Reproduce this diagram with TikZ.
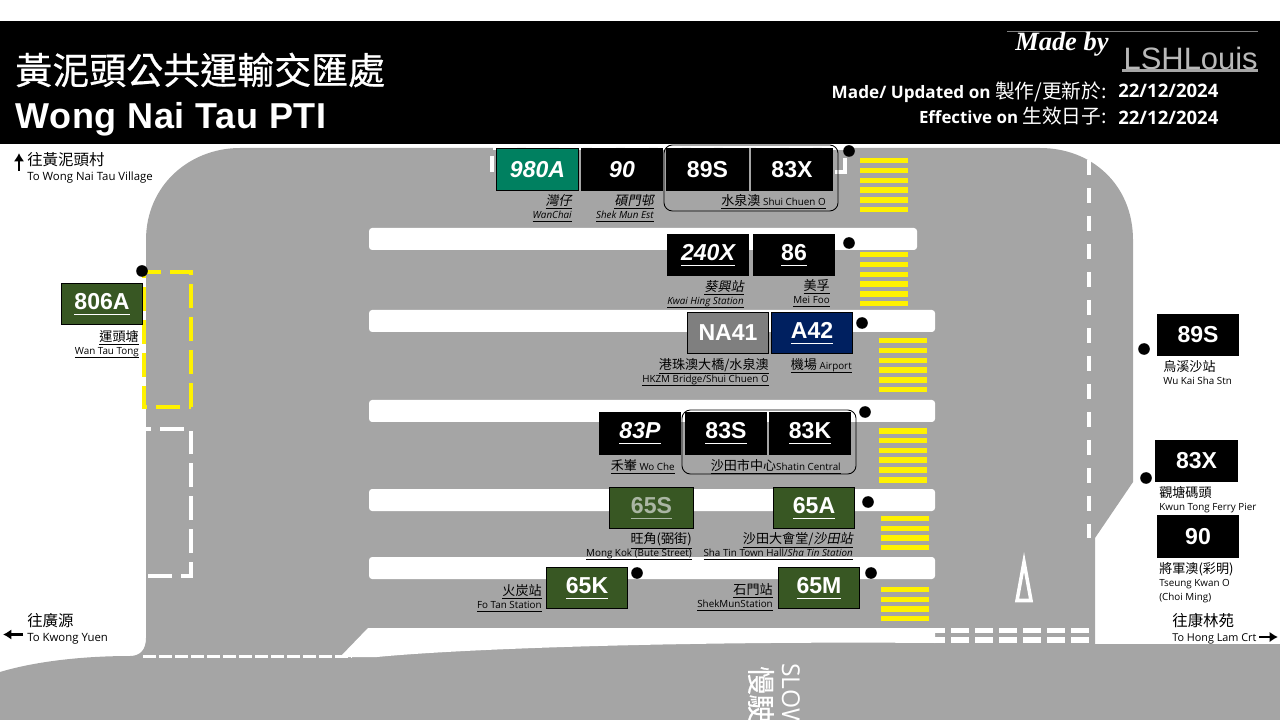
\documentclass[tikz,border=0pt]{standalone}
\usepackage{fontspec}
\usepackage{tikz}
\usetikzlibrary{arrows.meta}
\setmainfont{Open Sans}
\newfontfamily\cjk[AutoFakeSlant=0.2]{Noto Sans CJK TC}
\newfontfamily\cjkhead[FakeBold=0.6]{Noto Sans CJK TC}
\newfontfamily\rtfont{Liberation Sans}
\newfontfamily\titlefont[LetterSpace=2]{Liberation Sans}
\newfontfamily\logofont{Liberation Serif}
\definecolor{roadgray}{RGB}{165,165,165}
\definecolor{kmbgreen}{RGB}{56,87,35}
\definecolor{teal980}{RGB}{0,128,96}
\definecolor{navyA}{RGB}{0,32,96}
\definecolor{fadegray}{RGB}{127,127,127}
\newcommand{\zh}[1]{{\cjk\fontsize{9.3}{9.5}\selectfont #1}}
\newcommand{\en}[1]{{\fontsize{7}{9.5}\selectfont\raisebox{0pt}[\height][0.7pt]{#1}}}
\newcommand{\rtline}[1]{\underline{\rule[-2pt]{0pt}{0pt}#1}}
\newcommand{\labfont}{\fontsize{7}{9.5}\selectfont}

\begin{document}
\begin{tikzpicture}[
    x=0.025cm, y=-0.025cm,
    routebox/.style={
        rectangle, draw=black, fill=black, text=white, line width=0.7pt, inner sep=0pt,
        minimum width=2.03cm, minimum height=1.03cm, font=\fontsize{16.4}{18}\rtfont\bfseries
    },
    routeit/.style={routebox, font=\fontsize{16.4}{18}\rtfont\bfseries\itshape},
    greenbox/.style={routebox, fill=kmbgreen},
    stopdot/.style={circle, fill=black, minimum size=0.29cm, inner sep=0pt},
    stoplab/.style={anchor=north east, align=right, inner sep=0pt, font=\labfont},
    stoplabit/.style={stoplab, font=\labfont\itshape},
    sidelab/.style={anchor=north west, align=left, inner sep=0pt, font=\labfont},
    dirlab/.style={sidelab, font=\fontsize{8.1}{11}\selectfont},
    median/.style={fill=white, rounded corners=2.2pt},
    yellowbay/.style={draw=yellow, line width=2.6pt, dash pattern=on 17pt off 6.4pt},
    whitebay/.style={draw=white, line width=2.5pt, dash pattern=on 17pt off 6.4pt},
    grouploop/.style={rectangle, draw=black, rounded corners=6pt, line width=0.6pt},
    dirarrow/.style={draw, -{Latex[length=6pt,width=7.5pt]}, line width=1.5pt, black},
    headtext/.style={text=white, inner sep=0pt}
]
\useasboundingbox (0,0) rectangle (1280,720);

\fill [roadgray] (0,720) -- (0,672) .. controls (40,660) and (90,656) .. (130,656)
    .. controls (140,656) and (146,650) .. (146,638) -- (146,240)
    .. controls (146,185) and (190,148) .. (240,148) -- (1040,148)
    .. controls (1092,148) and (1133,185) .. (1133,240) -- (1133,482) -- (1095,538)
    -- (1095,644) -- (1280,644) -- (1280,720) -- cycle;
\fill [white] (340,657) -- (368,628) -- (935,628) -- (935,643)
    .. controls (700,641) and (470,648) .. (377,657) -- cycle;

\fill [median] (369,228) rectangle (917,250);
\fill [median] (369,310) rectangle (935,332);
\fill [median] (369,400) rectangle (935,422);
\fill [median] (369,489) rectangle (935,511);
\fill [median] (369,557) rectangle (935,579);

\foreach \sx/\sy in {860/158, 860/252, 879/338, 879/428}
    \foreach \i in {0,...,5}
        \fill [yellow] ({\sx},{\sy+\i*9.8}) rectangle ++(48,5.5);
\foreach \sx/\sy in {881/516, 881/587}
    \foreach \i in {0,...,3}
        \fill [yellow] ({\sx},{\sy+\i*9.7}) rectangle ++(48,5.2);

\draw [yellowbay] (191,407) -- (191,272) -- (144,272) -- (144,407) -- cycle;
\draw [whitebay] (148,576) -- (191,576) -- (191,429) -- (146,429);
\draw [whitebay] (835,172) -- (845,172) -- (845,148) -- (492,148) -- (492,172);
\draw [white, line width=2.6pt, dash pattern=on 9.2pt off 2.2pt] (143,656.5) -- (352,656.5);
\draw [white, line width=2.8pt, dash pattern=on 10.7pt off 9.2pt] (1089,160) -- (1089,538);
\draw [white, line width=3.6pt, dash pattern=on 12.8pt off 4.27pt] (927,630.5) -- (1089,630.5);
\draw [white, line width=3.9pt, dash pattern=on 12.8pt off 4.27pt] (927,640) -- (1089,640);
\draw [white, line width=2.5pt, miter limit=10] (1024,562) -- (1017,600.5) -- (1031,600.5) -- cycle;

\begin{scope}
\clip (0,0) rectangle (1280,720);
\node [rotate=-90, anchor=west, text=white, inner sep=0pt, font=\fontsize{17.5}{18}\selectfont] (slowen) at (791,663) {SLOW};
\node [rotate=-90, anchor=west, text=white, inner sep=0pt, font=\fontsize{20}{21}\cjkhead] (slowzh) at (761,666) {慢駛};
\end{scope}

\node [routebox, fill=teal980, font=\fontsize{16.4}{18}\rtfont\bfseries\itshape] (r980a) at (537.5,169.5) {980A};
\node [routeit] (r90a) at (622,169.5) {90};
\node [routebox] (r89sa) at (707.5,169.5) {89S};
\node [routebox] (r83xa) at (792,169.5) {83X};
\node [routeit] (r240x) at (708,255) {\rtline{240X}};
\node [routebox] (r86) at (794,255) {\rtline{86}};
\node [routebox, fill=fadegray] (rna41) at (728,333) {NA41};
\node [routebox, fill=navyA] (ra42) at (812,333) {\rtline{A42}};
\node [routeit] (r83p) at (640,433.5) {\rtline{83P}};
\node [routebox] (r83s) at (726,433.5) {\rtline{83S}};
\node [routebox] (r83k) at (810,433.5) {\rtline{83K}};
\node [greenbox, minimum width=2.12cm, text={rgb,255:red,170;green,182;blue,163}] (r65s) at (651.5,508) {\rtline{65S}};
\node [greenbox] (r65a) at (814,508) {\rtline{65A}};
\node [greenbox] (r65k) at (587,588) {\rtline{65K}};
\node [greenbox] (r65m) at (819,588) {\rtline{65M}};
\node [greenbox] (r806a) at (102,304) {\rtline{806A}};
\node [routebox] (r89sb) at (1198,335) {89S};
\node [routebox] (r83xb) at (1196.5,461) {83X};
\node [routebox] (r90b) at (1198,536.5) {90};

\node [grouploop, minimum width=4.35cm, minimum height=1.65cm] (loopsco) at (751,178) {};
\node [grouploop, minimum width=4.35cm, minimum height=1.6cm] (loopsha) at (769,442) {};

\node [stopdot] (dota) at (849,151) {};
\node [stopdot] (dotb) at (849,243) {};
\node [stopdot] (dotc) at (862,323) {};
\node [stopdot] (dotd) at (865,412) {};
\node [stopdot] (dote) at (868,502) {};
\node [stopdot] (dotf) at (637,573) {};
\node [stopdot] (dotg) at (871,573) {};
\node [stopdot] (doth) at (142,271) {};
\node [stopdot] (doti) at (1144,349) {};
\node [stopdot] (dotj) at (1146,478) {};

\node [stoplabit] (wanchai) at (572,194) {\underline{\zh{灣仔}}\\\underline{\en{WanChai}}};
\node [stoplabit] (shekmunest) at (654,194) {\underline{\zh{碩門邨}}\\\underline{\en{Shek Mun Est}}};
\node [stoplab] (shuichuen) at (826,194) {\underline{\zh{水泉澳} \en{Shui Chuen O}}};
\node [stoplabit] (kwaihing) at (744,280) {\underline{\zh{葵興站}}\\\underline{\en{Kwai Hing Station}}};
\node [stoplab] (meifoo) at (830,279) {\underline{\zh{美孚}}\\\underline{\en{Mei Foo}}};
\node [stoplab] (hkzm) at (769,358) {\underline{\zh{港珠澳大橋/水泉澳}}\\\underline{\en{HKZM Bridge/Shui Chuen O}}};
\node [stoplab] (airport) at (852,358) {\underline{\zh{機場} \en{Airport}}};
\node [stoplab] (woche) at (675,459) {\underline{\zh{禾輋} \en{Wo Che}}};
\node [stoplab] (shatin) at (841,459) {\underline{\zh{沙田市中心}\en{Shatin Central}}};
\node [stoplab] (mongkok) at (692,532) {\underline{\zh{旺角(弼街)}}\\\underline{\en{Mong Kok (Bute Street)}}};
\node [stoplab] (townhall) at (853,532) {\underline{\zh{沙田大會堂/\textit{沙田站}}}\\\underline{\en{Sha Tin Town Hall/\textit{Sha Tin Station}}}};
\node [stoplab] (fotan) at (542,584) {\underline{\zh{火炭站}}\\\underline{\en{Fo Tan Station}}};
\node [stoplab] (shekmun) at (773,583) {\underline{\zh{石門站}}\\\underline{\en{ShekMunStation}}};
\node [stoplab] (wantau) at (139,330) {\underline{\zh{運頭塘}}\\\underline{\en{Wan Tau Tong}}};
\node [sidelab] (wukaisha) at (1163,360) {\zh{烏溪沙站}\\\en{Wu Kai Sha Stn}};
\node [sidelab] (kwuntong) at (1159,486) {\zh{觀塘碼頭}\\\en{Kwun Tong Ferry Pier}};
\node [sidelab] (choiming) at (1159,562) {\zh{將軍澳(彩明)}\\\en{Tseung Kwan O}\\\en{(Choi Ming)}};

\node [dirlab] (towong) at (27,152) {{\cjk\fontsize{11}{11}\selectfont 往黃泥頭村}\\To Wong Nai Tau Village};
\node [dirlab] (tokwong) at (27,613) {{\cjk\fontsize{11}{11}\selectfont 往廣源}\\To Kwong Yuen};
\node [dirlab, font=\fontsize{7.7}{11}\selectfont] (tohong) at (1172,613) {{\cjk\fontsize{11}{11}\selectfont 往康林苑}\\To Hong Lam Crt};
\coordinate (arrowup) at (19,171);
\coordinate (arrowleft) at (23,634.5);
\coordinate (arrowright) at (1259,637);
\draw [dirarrow] (arrowup) -- ++(0,-18);
\draw [dirarrow] (arrowleft) -- ++(-20,0);
\draw [dirarrow] (arrowright) -- ++(19,0);

\fill [black] (0,21) rectangle (1280,144);
\node [headtext, anchor=west, font=\fontsize{26.3}{28}\cjkhead] (titlezh) at (15,70) {黃泥頭公共運輸交匯處};
\node [headtext, anchor=west, font=\fontsize{25.6}{28}\titlefont\bfseries] (titleen) at (15,119) {Wong Nai Tau PTI};
\draw [gray, line width=0.5pt] (1007,31) -- (1258,31);
\node [headtext, anchor=west, font=\fontsize{18.8}{20}\logofont\bfseries\itshape] (madeby) at (1015,44) {Made by};
\node [headtext, anchor=east, text={rgb,255:red,185;green,185;blue,185}, font=\fontsize{22}{23}\rtfont] (author) at (1258,58) {LSHLouis};
\draw [gray!70, line width=1.5pt] (1122,70.5) -- (1258,70.5);
\node [headtext, anchor=east, font=\fontsize{12.2}{14}\selectfont\bfseries] (updated) at (1107,92) {Made/ Updated on {\cjk\mdseries\fontsize{14}{14}\selectfont 製作/更新於:}};
\node [headtext, anchor=east, font=\fontsize{12}{14}\selectfont\bfseries] (effective) at (1107,116) {Effective on {\cjk\mdseries\fontsize{14}{14}\selectfont 生效日子:}};
\node [headtext, anchor=west, font=\fontsize{13.2}{14}\selectfont\bfseries] (dateup) at (1118,91) {22/12/2024};
\node [headtext, anchor=west, font=\fontsize{13.2}{14}\selectfont\bfseries] (dateeff) at (1118,118) {22/12/2024};
\end{tikzpicture}
\end{document}
